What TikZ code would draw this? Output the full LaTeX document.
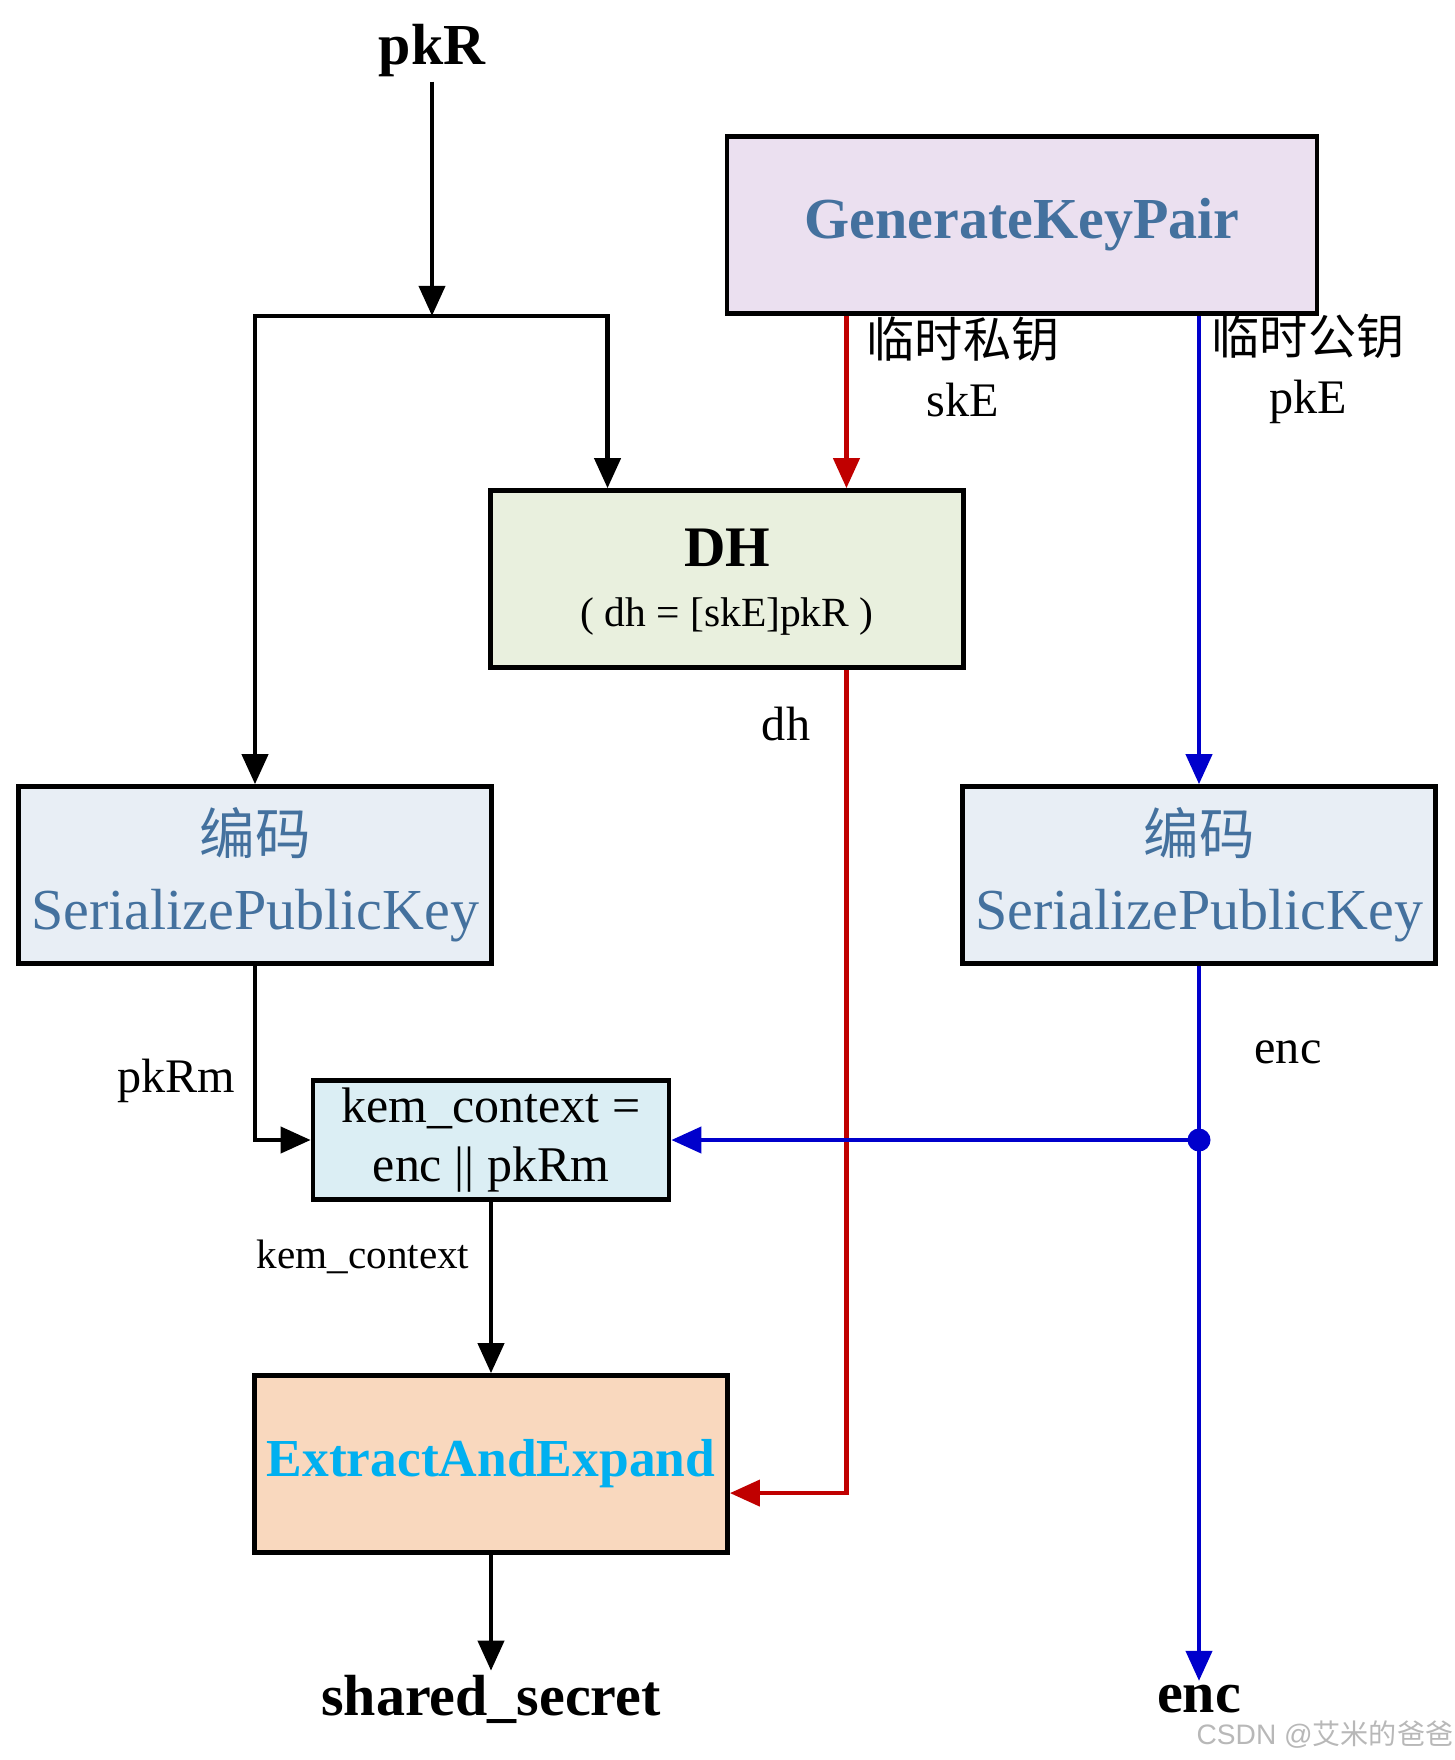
\documentclass[tikz,border=0pt]{standalone}
\usepackage{fontspec}
\setmainfont{Liberation Serif}
\newfontfamily\cjk{Noto Sans CJK SC}
\newfontfamily\marksans{Liberation Sans}
\usepackage{xcolor}
\usepackage{tikz}
\usetikzlibrary{arrows.meta, calc, positioning}
\definecolor{genfill}{HTML}{EBE0F0}
\definecolor{dhfill}{HTML}{E9F0DE}
\definecolor{serfill}{HTML}{E8EEF5}
\definecolor{kemfill}{HTML}{DBEEF4}
\definecolor{extfill}{HTML}{F9D8BE}
\definecolor{keyblue}{HTML}{44719E}
\definecolor{extcyan}{HTML}{00B0F0}
\definecolor{skred}{HTML}{C00000}
\definecolor{pkblue}{HTML}{0000CC}

\begin{document}
\begin{tikzpicture}[x=0.01cm, y=-0.01cm,
  conn/.style={line width=1.2pt, -{Triangle[length=0.3cm, width=0.26cm]}},
  box/.style={draw, line width=1.3pt, minimum width=4.73cm, minimum height=1.77cm, align=center, inner sep=2pt},
  lbl/.style={font=\fontsize{13.7}{16.7}\selectfont, align=center, inner sep=0pt},
  big/.style={font=\fontsize{16.5}{19}\selectfont\bfseries, inner sep=1pt}]
  \useasboundingbox (0,0) rectangle (1454,1760);
  \node[big] (pkR) at (432,51) {pkR};
  \node[box, fill=genfill, minimum width=5.9cm, text=keyblue, font=\fontsize{16.5}{19}\selectfont\bfseries] (gen) at (1022,225) {GenerateKeyPair};
  \node[box, fill=dhfill] (dh) at (727,579) {};
  \node[font=\fontsize{16.3}{19}\selectfont\bfseries, inner sep=0pt] (dhname) at (727,548) {DH};
  \node[font=\fontsize{11.8}{14}\selectfont, inner sep=0pt] (dhnote) at (727,617) {( dh = [skE]pkR )};
  \node[box, fill=serfill, text=keyblue, font=\fontsize{16.5}{21.4}\selectfont] (serL) at (255,875) {{\cjk\fontsize{15.8}{21.4}\selectfont 编码}\\SerializePublicKey};
  \node[box, fill=serfill, text=keyblue, font=\fontsize{16.5}{21.4}\selectfont] (serR) at (1199,875) {{\cjk\fontsize{15.8}{21.4}\selectfont 编码}\\SerializePublicKey};
  \node[box, fill=kemfill, minimum width=3.56cm, minimum height=1.19cm, font=\fontsize{14.2}{17}\selectfont] (kem) at (491,1140) {kem\_context =\\enc || pkRm};
  \node[box, fill=extfill, text=extcyan, font=\fontsize{15.2}{18}\selectfont\bfseries] (ext) at (491,1464) {ExtractAndExpand};
  \node[lbl] (skE) at (963,367) {{\cjk 临时私钥}\\skE};
  \node[lbl] (pkE) at (1308,369) {{\cjk 临时公钥}\\pkE};
  \node[lbl] (dhlbl) at (786,724) {dh};
  \node[lbl] (pkRm) at (176,1081) {pkRm};
  \node[lbl] (enclbl) at (1288,1052) {enc};
  \node[lbl, font=\fontsize{11.7}{14}\selectfont] (kemlbl) at (363,1257) {kem\_context};
  \node[big] (ss) at (491,1699) {shared\_secret};
  \node[big] (enc) at (1199,1699) {enc};
  \node[text=black!28, font=\fontsize{8}{10}\selectfont\marksans, inner sep=0pt] (mark) at (1325,1735) {CSDN @{\cjk 艾米的爸爸}};
  \coordinate (split) at (pkR |- gen.south);
  \coordinate (dhpk) at ($(dh.north west)!0.25!(dh.north east)$);
  \coordinate (dhsk) at ($(dh.north west)!0.75!(dh.north east)$);
  \coordinate (dhout) at ($(dh.south west)!0.75!(dh.south east)$);
  \coordinate (extin) at ($(ext.north east)!0.66!(ext.south east)$);
  \coordinate (encdot) at (serR.south |- kem.east);
  \draw[conn] (pkR) -- (split);
  \draw[conn] (split) -| (serL.north);
  \draw[conn] (split) -| (dhpk);
  \draw[conn, skred] (dhsk |- gen.south) -- (dhsk);
  \draw[conn, pkblue] (serR.north |- gen.south) -- (serR.north);
  \draw[conn, skred] (dhout) |- (extin);
  \draw[conn] (serL.south) |- (kem.west);
  \draw[conn, pkblue] (serR.south) -- (enc);
  \draw[conn, pkblue] (encdot) -- (kem.east);
  \fill[pkblue] (encdot) circle (0.115cm);
  \draw[conn] (kem) -- (ext);
  \draw[conn] (ext) -- (ss);
\end{tikzpicture}
\end{document}
